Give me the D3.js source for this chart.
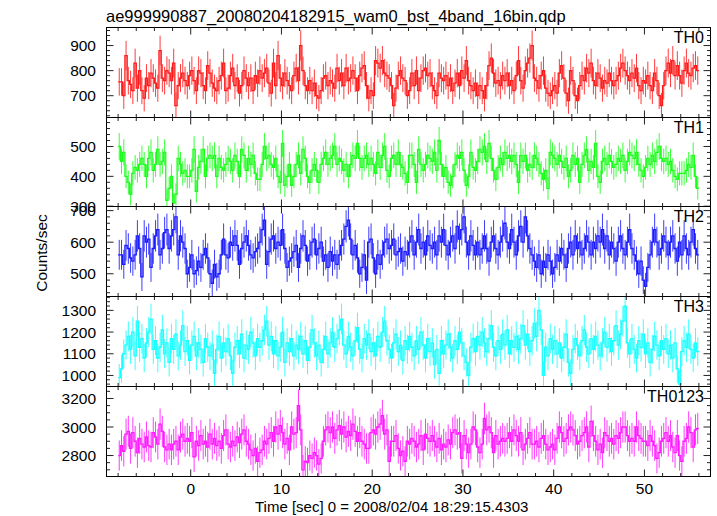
<!DOCTYPE html>
<html><head><meta charset="utf-8">
<script src="https://cdn.jsdelivr.net/npm/d3@7"></script>
<style>body{margin:0;background:#fff}svg{display:block}text{font-family:"Liberation Sans",Arial,Helvetica,sans-serif;fill:#000}</style>
</head><body><svg id="c" width="717" height="516"></svg>
<script>
const title = "ae999990887_20080204182915_wam0_bst_4band_16bin.qdp";
const xLabel = "Time [sec] 0 = 2008/02/04 18:29:15.4303";
const yLabel = "Counts/sec";
const panelNames = ["TH0","TH1","TH2","TH3","TH0123"];
const panelColors = ["#ff1a1a","#1aff1a","#1a1aff","#1affff","#ff1aff"];
const yDomains = [[613,972],[299,597],[428,713],[949,1364],[2653,3284]];
const yTickLabels = [[700,800,900],[300,400,500],[500,600,700],[1000,1100,1200,1300],[2800,3000,3200]];
const yMinorSteps = [20,20,20,20,50];
const xTickLabels = [0,10,20,30,40,50];
const xMinorStep = 2;
const tStart = -8, tEnd = 56;

const th0 = [755,755,700,860,760,745,720,830,730,800,720,690,770,740,790,770,750,730,880,770,
760,800,790,760,830,660,740,770,790,760,740,780,800,760,720,800,790,740,720,820,
790,750,730,720,760,780,830,720,730,780,810,740,770,710,740,800,770,740,770,720,
780,750,800,770,790,810,750,710,830,740,860,770,740,790,760,740,720,780,810,760,
900,800,740,720,760,720,750,700,690,720,770,780,740,760,750,730,810,760,790,740,
810,760,770,800,770,720,780,810,820,740,690,720,700,840,830,810,840,790,780,770,
740,660,730,780,800,770,760,700,
720,790,740,800,720,770,800,810,780,790,740,720,700,790,770,760,780,740,770,
720,750,790,740,800,770,840,760,740,720,750,700,740,720,690,740,820,850,790,750,
760,740,780,760,790,740,760,720,780,840,760,730,800,830,850,900,770,760,730,780,
800,730,710,700,720,740,710,790,820,770,710,680,800,760,700,680,740,780,760,810,
790,830,760,740,790,770,730,760,750,790,760,740,760,780,810,830,800,780,760,790,
770,810,740,720,760,750,780,740,720,790,760,700,660,740,800,830,790,840,780,820,
780,750,800,830,790,780,810,820,800];

const th1 = [500,450,480,400,380,340,410,430,420,440,460,440,400,460,480,420,440,490,440,450,
480,320,360,400,310,340,460,440,410,420,400,400,420,490,350,430,450,490,400,460,
470,460,470,400,460,430,420,440,460,450,420,470,450,400,490,470,420,460,440,470,
410,390,390,440,500,460,470,440,430,460,400,380,510,370,400,440,370,400,440,470,
410,490,460,400,380,420,440,420,380,440,460,480,440,460,470,500,440,460,450,420,
440,400,440,470,460,510,460,430,460,470,440,460,440,410,480,430,470,500,420,400,
460,470,440,480,440,430,410,380,
470,470,440,380,490,440,420,440,470,460,450,480,420,520,440,400,430,380,370,
400,440,470,460,480,420,370,400,480,430,420,450,490,480,500,450,510,460,420,390,
430,460,440,480,460,470,450,470,440,380,470,450,470,420,440,430,470,460,440,410,
390,420,360,480,470,460,440,470,450,430,460,400,420,470,440,460,380,440,470,490,
420,450,430,510,400,380,450,460,440,470,450,430,440,460,450,470,420,450,480,470,
460,480,440,420,400,430,460,440,470,450,480,500,460,450,460,440,450,420,400,390,
410,410,410,420,440,430,470,400,360];

const th2 = [560,560,530,590,580,550,540,560,620,580,490,620,600,610,520,580,620,640,560,580,
630,640,580,620,640,680,560,620,600,580,500,520,560,500,510,540,520,560,580,550,
500,470,530,490,500,560,610,560,550,600,590,620,590,530,580,600,620,590,560,550,
570,580,600,640,670,530,570,610,620,580,600,590,640,580,520,540,550,570,590,520,
580,620,590,540,560,600,610,560,580,600,540,560,520,570,540,560,530,560,590,610,
650,670,610,560,590,550,500,520,560,480,600,610,550,500,560,530,560,600,610,580,
590,610,560,570,580,540,570,560,
600,620,560,600,640,580,600,560,620,590,
580,600,560,620,600,640,590,560,600,620,580,650,610,
640,680,600,560,620,590,560,
600,560,580,620,580,540,600,620,580,560,600,
620,660,600,580,640,600,560,620,650,600,680,620,580,560,
540,520,560,500,540,520,560,540,500,520,560,540,580,
560,520,580,600,560,620,580,600,560,580,620,600,560,600,580,620,
600,640,580,620,560,600,580,540,600,620,580,560,600,640,580,560,540,
500,540,480,460,520,560,600,640,600,560,580,620,600,
560,600,620,580,540,600,560,620,580,560,600,640,580,560];

const th3 = [990,1030,1100,1140,1180,1120,1200,1090,1250,1130,1170,1080,1150,1200,1260,1120,
1160,1080,1130,1210,1100,1150,1060,1170,1120,1190,1090,1140,1230,1110,1160,1070,
1140,1180,1090,1150,1120,1060,1170,1130,1090,1140,1010,1120,1180,1080,1150,1110,
1170,1090,1010,1130,1160,1100,1190,1080,1140,1120,1200,1150,1090,1170,1130,1160,
1210,1250,1140,1180,1100,1160,1090,1130,1200,1060,1150,1110,1170,1090,1140,1120,
1180,1100,1160,1070,1130,1210,1150,1090,1140,1060,1120,1180,1100,1150,1200,1130,
1170,1210,1260,1140,1100,1180,1130,1090,1160,1220,1120,1080,1170,1140,1190,1110,
1150,1090,1180,1130,1200,1250,1160,1120,1080,1150,1190,1110,1140,1070,1160,1120,
1180,1130,1090,1160,1120,1200,1140,1080,1170,1110,1150,1050,1120,1010,1160,1100,
1140,1190,1130,1080,1160,1120,1200,1150,1090,1060,1000,1130,1170,1110,1180,1140,
1200,1150,1110,1170,1230,1130,1090,1160,1120,1190,1140,1210,1100,1160,1130,1180,
1120,1170,1230,1140,1190,1110,1160,1240,1180,1300,1210,1000,1130,1090,1170,1120,
1160,1100,1150,1080,1130,1190,1060,1010,1120,1170,1140,1090,1160,1210,1130,1100,
1170,1120,1180,1140,1090,1150,1200,1130,1170,1110,1160,1230,1140,1190,1250,1320,
1150,1100,1170,1120,1080,1160,1130,1190,1100,1150,1060,1120,1180,1140,1090,1160,
1120,1170,1100,1140,1080,1150,1030,960,1110,1160,1130,1190,1120,1080,1150,1110];

const th0123 = [2800,2870,2830,2950,2970,2850,2960,2900,2820,2920,2880,2860,2930,2870,2860,2960,2930,2880,3020,2970,
2860,2840,2880,2840,2880,2900,2840,2930,2950,2900,2920,2900,2960,2790,2900,2870,2940,2880,2900,2860,
2950,2880,2920,2870,2900,2850,2940,2980,2880,2860,2900,2870,2930,2890,2950,2980,2900,2880,2840,2800,
2850,2760,2820,2840,2900,2880,2920,2960,2900,3000,2950,3010,2960,2880,2920,2840,3000,2950,2960,3150,
2980,2700,2760,2750,2800,2780,2820,2800,2740,2780,2900,2980,3000,2960,3000,2920,2980,3010,2950,3000,
2930,2970,2940,3020,2970,2900,
2960,2900,2880,2850,2850,2960,2980,2950,3000,3020,3080,2950,2980,2760,2900,2900,2940,2850,2800,2830,
2760,2900,2880,2920,2900,2860,2880,2940,2840,2950,2920,2900,2940,2900,2860,2920,2840,2880,2860,2910,
2880,2960,2980,2950,2960,2780,2940,2880,2820,2880,3000,2980,2860,2820,2880,3060,2980,3000,2960,2820,
2940,2880,2900,2920,2900,2920,2960,2900,2980,2940,2900,2960,2840,2880,2920,2960,2880,2880,2900,2860,
2920,2940,2880,2840,2860,2880,2840,2920,3000,2960,2900,2920,2980,3000,2980,2940,2880,2900,2940,2960,
3000,2860,3040,2940,2900,2840,2880,2820,2960,2940,2900,2920,2880,2940,2920,2960,3000,3000,2940,2900,
2920,2900,3000,2940,2920,2900,2900,2870,2940,2900,2870,2780,2820,2900,2920,2960,2900,2940,2860,2820,
2940,2800,2760,2900,2920,3000,2960,2860,2980,2990];

const series = [th0, th1, th2, th3, th0123];

const svg = d3.select("#c");
const X0 = 106.5, X1 = 710.5;
const edges = [27, 117, 206, 296, 386, 476];
const x = d3.scaleLinear().domain([-9.28, 57.28]).range([X0, X1]);
const xMinor = d3.range(-8, 57, xMinorStep);

series.forEach((vals, p) => {
  const top = edges[p] + 0.5, bot = edges[p + 1] + 0.5;
  const y = d3.scaleLinear().domain(yDomains[p]).range([bot, top]);
  const col = panelColors[p];
  const n = vals.length, dt = (tEnd - tStart) / n;
  const cid = "clip" + p;
  svg.append("clipPath").attr("id", cid).append("rect")
    .attr("x", X0).attr("y", top).attr("width", X1 - X0).attr("height", bot - top);
  const g = svg.append("g").attr("clip-path", `url(#${cid})`);
  g.selectAll("line.err").data(vals).join("line").attr("class", "err")
    .attr("x1", (v, i) => x(tStart + (i + 0.5) * dt))
    .attr("x2", (v, i) => x(tStart + (i + 0.5) * dt))
    .attr("y1", v => y(v - 2 * Math.sqrt(v)))
    .attr("y2", v => y(v + 2 * Math.sqrt(v)))
    .attr("stroke", col).attr("stroke-width", 1).attr("stroke-opacity", 0.85);
  const pts = vals.map((v, i) => [tStart + i * dt, v]);
  pts.push([tEnd, vals[n - 1]]);
  g.append("path").datum(pts)
    .attr("d", d3.line().x(d => x(d[0])).y(d => y(d[1])).curve(d3.curveStepAfter))
    .attr("fill", "none").attr("stroke", col).attr("stroke-width", 1.3);

  svg.append("rect").attr("x", X0).attr("y", top).attr("width", X1 - X0).attr("height", bot - top)
    .attr("fill", "none").attr("stroke", "#000").attr("stroke-width", 1);

  const tk = svg.append("g").attr("stroke", "#222").attr("stroke-width", 1);
  xMinor.forEach(t => {
    const L = (t % 10 === 0) ? 7 : 3.5;
    const xx = x(t);
    tk.append("line").attr("x1", xx).attr("x2", xx).attr("y1", top).attr("y2", top + L);
    tk.append("line").attr("x1", xx).attr("x2", xx).attr("y1", bot).attr("y2", bot - L);
  });
  const [d0, d1] = yDomains[p];
  const ms = yMinorSteps[p];
  const majorStep = yTickLabels[p][1] - yTickLabels[p][0];
  d3.range(Math.ceil(d0 / ms) * ms, d1 + 0.001, ms).forEach(v => {
    const L = (Math.abs(v % majorStep) < 1e-6) ? 7 : 3.5;
    const yy = y(v);
    tk.append("line").attr("x1", X0).attr("x2", X0 + L).attr("y1", yy).attr("y2", yy);
    tk.append("line").attr("x1", X1).attr("x2", X1 - L).attr("y1", yy).attr("y2", yy);
  });
  yTickLabels[p].forEach(v => {
    svg.append("text").attr("x", 96).attr("y", y(v)).attr("dy", "0.36em")
      .attr("text-anchor", "end").attr("font-size", 15.5).text(v);
  });
  svg.append("text").attr("x", 704).attr("y", edges[p] + 16).attr("text-anchor", "end")
    .attr("font-size", 16).text(panelNames[p]);
});

xTickLabels.forEach(t => {
  svg.append("text").attr("x", x(t)).attr("y", 493.5).attr("text-anchor", "middle")
    .attr("font-size", 15.5).text(t);
});
svg.append("text").attr("x", 255).attr("y", 512).attr("font-size", 15).text(xLabel);
svg.append("text").attr("x", 106).attr("y", 21.5).attr("font-size", 16.5).text(title);
svg.append("text").attr("transform", "translate(47,253) rotate(-90)").attr("text-anchor", "middle")
  .attr("font-size", 15.5).text(yLabel);
</script></body></html>
